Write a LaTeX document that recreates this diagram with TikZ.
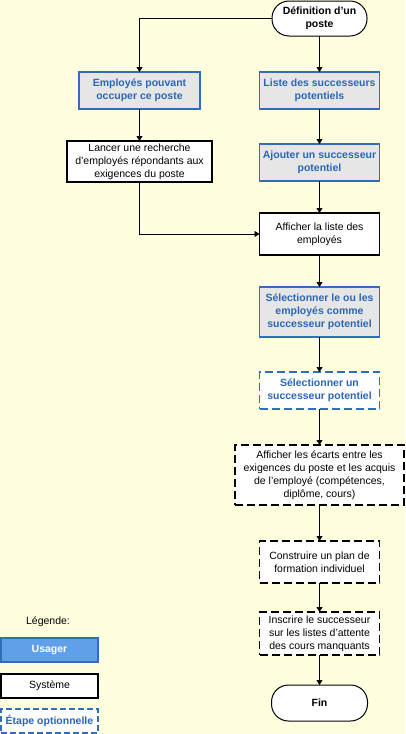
\documentclass[tikz,border=0pt]{standalone}
\usepackage{fontspec}
\setmainfont{Liberation Sans}
\usepackage{xcolor}
\usetikzlibrary{arrows.meta, positioning}

\definecolor{bgyellow}{HTML}{FFFFE0}
\definecolor{userblue}{HTML}{2F6EBA}
\definecolor{usertext}{HTML}{2B67B5}
\definecolor{userfill}{HTML}{E6E6E6}
\definecolor{legendfill}{HTML}{5FA0E8}

\begin{document}
\begin{tikzpicture}[
    x=1pt, y=-1pt,
    font=\fontsize{10.5}{13}\selectfont,
    term/.style={rectangle, draw=black, fill=white, line width=1pt, outer sep=0pt, rounded corners=17pt, minimum width=95pt, minimum height=35pt, align=center, font=\fontsize{10.5}{13}\selectfont\bfseries},
    userbox/.style={rectangle, draw=userblue, fill=userfill, line width=1.2pt, outer sep=0pt, minimum width=120pt, minimum height=37pt, inner sep=2pt, align=center, text=usertext, font=\fontsize{10.5}{13}\selectfont\bfseries},
    sysbox/.style={rectangle, draw=black, fill=white, line width=1.4pt, outer sep=0pt, minimum width=120pt, minimum height=42pt, inner sep=2pt, align=center},
    optbox/.style={rectangle, draw=userblue, fill=white, line width=1.6pt, outer sep=0pt, dash pattern=on 8pt off 4pt, minimum width=120pt, minimum height=37pt, inner sep=2pt, align=center, text=usertext, font=\fontsize{10.5}{13}\selectfont\bfseries},
    optsys/.style={rectangle, draw=black, fill=white, line width=1.6pt, outer sep=0pt, dash pattern=on 8pt off 4pt, minimum width=120pt, minimum height=42pt, inner sep=2pt, align=center},
    arrow/.style={-{Triangle[length=5pt,width=6pt]}, line width=0.8pt, draw=black}
]

% Background and page size
\fill[bgyellow] (0,0) rectangle (405,734);
\useasboundingbox (0,0) rectangle (405,734);

% Right column
\node[term] (start) at (319.5,18.5) {Définition d’un\\poste};
\node[userbox, below=36pt of start] (liste) {Liste des successeurs\\potentiels};
\node[userbox, below=35pt of liste] (ajout) {Ajouter un successeur\\potentiel};
\node[sysbox, below=32pt of ajout] (affiche) {Afficher la liste des\\employés};
\node[userbox, minimum height=50pt, below=32pt of affiche] (select) {Sélectionner le ou les\\employés comme\\successeur potentiel};
\node[optbox, below=35pt of select] (selun) {Sélectionner un\\successeur potentiel};
\node[optsys, minimum width=169pt, minimum height=60pt, below=36pt of selun] (ecarts) {Afficher les écarts entre les\\exigences du poste et les acquis\\de l’employé (compétences,\\diplôme, cours)};
\node[optsys, below=36pt of ecarts] (plan) {Construire un plan de\\formation individuel};
\node[optsys, minimum height=43pt, below=29pt of plan] (inscrire) {Inscrire le successeur\\sur les listes d’attente\\des cours manquants};
\node[term, minimum width=96pt, minimum height=36pt, below=30pt of inscrire] (fin) {Fin};

% Left column
\node[userbox, minimum width=121pt] (employes) at (139.5,90.5) {Employés pouvant\\occuper ce poste};
\node[sysbox, minimum width=145pt, minimum height=41pt, below=32pt of employes] (recherche) {Lancer une recherche\\d’employés répondants aux\\exigences du poste};

% Legend
\node (legende) at (48,622) {Légende:};
\node[userbox, fill=legendfill, text=white, minimum width=97pt, minimum height=24pt] (leg_user) at (49.5,650) {Usager};
\node[sysbox, minimum width=97pt, minimum height=24pt] (leg_sys) at (49.5,686) {Système};
\node[optbox, dash pattern=on 6pt off 3pt, minimum width=97pt, minimum height=24pt] (leg_opt) at (49.5,721) {Étape optionnelle};

% Connectors
\draw[arrow] (start) -- (liste);
\draw[arrow] (start.west) -| (employes.north);
\draw[arrow] (employes) -- (recherche);
\draw[arrow] (liste) -- (ajout);
\draw[arrow] (ajout) -- (affiche);
\draw[arrow] (recherche.south) |- (affiche.west);
\draw[arrow] (affiche) -- (select);
\draw[arrow] (select) -- (selun);
\draw[arrow] (selun) -- (ecarts);
\draw[arrow] (ecarts) -- (plan);
\draw[arrow] (plan) -- (inscrire);
\draw[arrow] (inscrire) -- (fin);

\end{tikzpicture}
\end{document}
